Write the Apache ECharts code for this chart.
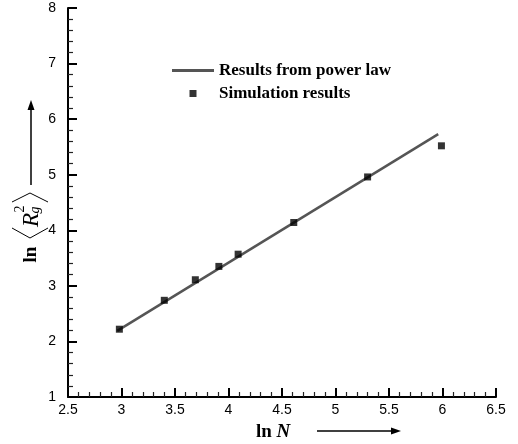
<!DOCTYPE html>
<html>
<head>
<meta charset="utf-8">
<script src="https://cdn.jsdelivr.net/npm/echarts@6/dist/echarts.min.js"></script>
<style>
  html, body { margin: 0; padding: 0; background: #fff; }
  #chart { width: 518px; height: 444px; }
</style>
</head>
<body>
<div id="chart"></div>
<script>
// simulation points (ln N, ln <Rg^2>)
const simX = [2.98, 3.40, 3.69, 3.91, 4.09, 4.61, 5.30, 5.99];
const simY = [2.22, 2.74, 3.11, 3.35, 3.57, 4.14, 4.96, 5.52];
// power law fit line end points
const fitX = [2.96, 5.96];
const fitY = [2.19, 5.73];
const xTicks = [2.5, 3, 3.5, 4, 4.5, 5, 5.5, 6, 6.5];
const yTicks = [1, 2, 3, 4, 5, 6, 7, 8];

const chart = echarts.init(document.getElementById("chart"));

const serif = "'Liberation Serif', 'Times New Roman', serif";
const sans = "'Liberation Sans', Arial, sans-serif";

const axisCommon = {
  axisLine: { show: true, onZero: false, lineStyle: { color: "#000", width: 2 } },
  axisTick: { show: true, inside: true, length: 9, lineStyle: { color: "#000", width: 2 } },
  minorTick: { show: true, splitNumber: 5, length: 5, lineStyle: { color: "#222", width: 1.2 } },
  splitLine: { show: false },
  axisLabel: { color: "#000", fontFamily: sans, fontSize: 14, showMinLabel: true, showMaxLabel: true },
};

const option = {
  animation: false,
  backgroundColor: "#fff",
  grid: { left: 68, top: 8, right: 22, bottom: 47, containLabel: false },
  legend: {
    orient: "vertical",
    left: 172,
    top: 62,
    padding: 0,
    itemWidth: 42,
    itemHeight: 7,
    itemGap: 6,
    textStyle: { fontFamily: serif, fontWeight: "bold", fontSize: 17, lineHeight: 17, color: "#000" },
    data: [
      { name: "Results from power law", icon: "path://M0,0h42v3h-42z" },
      { name: "Simulation results", icon: "path://M0,0h10v10h-10z" },
    ],
  },
  xAxis: Object.assign({}, axisCommon, {
    type: "value",
    min: xTicks[0],
    max: xTicks[xTicks.length - 1],
    interval: 0.5,
    axisLabel: Object.assign({}, axisCommon.axisLabel, { margin: 6 }),
  }),
  yAxis: Object.assign({}, axisCommon, {
    type: "value",
    min: yTicks[0],
    max: yTicks[yTicks.length - 1],
    interval: 1,
    axisLabel: Object.assign({}, axisCommon.axisLabel, { margin: 12 }),
  }),
  series: [
    {
      name: "Results from power law",
      type: "line",
      data: fitX.map((x, i) => [x, fitY[i]]),
      symbol: "none",
      lineStyle: { color: "#555", width: 2.5 },
      itemStyle: { color: "#555" },
      z: 2,
    },
    {
      name: "Simulation results",
      type: "scatter",
      data: simX.map((x, i) => [x, simY[i]]),
      symbol: "rect",
      symbolSize: 7,
      itemStyle: { color: "#000" },
      z: 3,
    },
  ],
  graphic: [
    // y axis title: ln <R_g^2>, rotated
    { type: "text", x: 31.5, y: 254.5, rotation: Math.PI / 2,
      style: { text: "ln", font: "bold 19px " + serif, fill: "#000", align: "center", verticalAlign: "middle" } },
    { type: "text", x: 32, y: 220, rotation: Math.PI / 2,
      style: { text: "R", font: "italic 23px " + serif, fill: "#000", align: "center", verticalAlign: "middle" } },
    { type: "text", x: 20, y: 209, rotation: Math.PI / 2,
      style: { text: "2", font: "14px " + serif, fill: "#000", align: "center", verticalAlign: "middle" } },
    { type: "text", x: 35, y: 210, rotation: Math.PI / 2,
      style: { text: "g", font: "italic 14px " + serif, fill: "#000", align: "center", verticalAlign: "middle" } },
    { type: "polyline", shape: { points: [[12, 202], [30, 193], [48, 202]] },
      style: { stroke: "#000", lineWidth: 1, fill: null } },
    { type: "polyline", shape: { points: [[12, 228], [30, 238], [48, 228]] },
      style: { stroke: "#000", lineWidth: 1, fill: null } },
    // y arrow
    { type: "line", shape: { x1: 31, y1: 185, x2: 31, y2: 108 }, style: { stroke: "#000", lineWidth: 1.5 } },
    { type: "polygon", shape: { points: [[31, 100], [27.5, 110], [34.5, 110]] }, style: { fill: "#000" } },
    // x axis title: ln N
    { type: "text", x: 256, y: 432,
      style: {
        text: "{b|ln }{i|N}", verticalAlign: "middle", align: "left",
        rich: {
          b: { fontFamily: serif, fontWeight: "bold", fontSize: 19, color: "#000" },
          i: { fontFamily: serif, fontWeight: "bold", fontStyle: "italic", fontSize: 19, color: "#000" },
        },
      } },
    // x arrow
    { type: "line", shape: { x1: 317, y1: 431, x2: 393, y2: 431 }, style: { stroke: "#000", lineWidth: 1.5 } },
    { type: "polygon", shape: { points: [[401, 431], [391, 427.5], [391, 434.5]] }, style: { fill: "#000" } },
  ],
};

chart.setOption(option);
</script>
</body>
</html>
